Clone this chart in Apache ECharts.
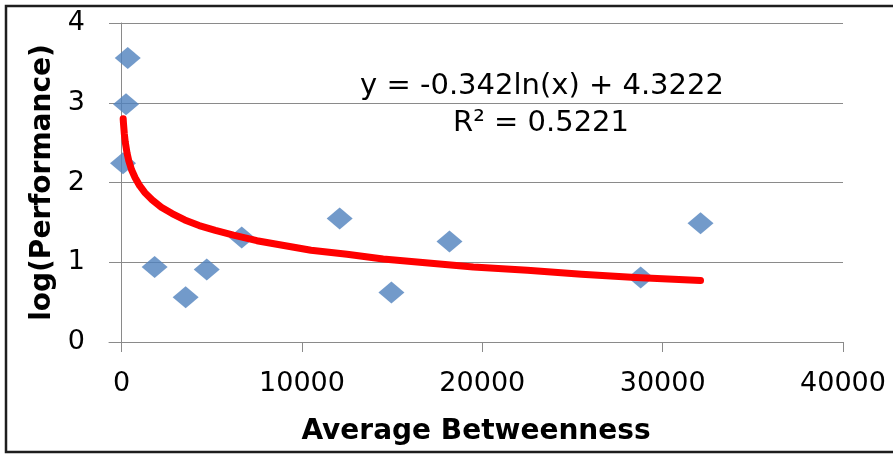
<!DOCTYPE html>
<html>
<head>
	<meta charset="UTF-8">
	<script src="https://cdn.jsdelivr.net/npm/echarts@6/dist/echarts.min.js"></script>
	<title></title>
	<style>
		html, body { margin: 0; padding: 0; background: #fff; }
	</style>
</head>
<body>
	<div id="main" style="height:454px;width:893px;"></div>
	<script type="text/javascript">
        // points
        var betweenness = [340, 244, 78, 1830, 3550, 4720, 6660, 12090, 14960, 18180, 28780, 32100];
        var logPerf = [3.56, 2.98, 2.24, 0.94, 0.56, 0.91, 1.31, 1.55, 0.62, 1.26, 0.81, 1.49];

        // red log trendline, sampled from the curve in the picture
        var trendX = [86, 100, 150, 200, 300, 400, 550, 750, 1000, 1300, 1700, 2200, 2800, 3500, 4300, 5200, 6200, 7500, 9000, 10500, 12500, 14500, 17000, 19500, 22500, 25500, 28500, 32100];
        var trendY = [2.80, 2.75, 2.61, 2.51, 2.37, 2.27, 2.16, 2.06, 1.96, 1.87, 1.78, 1.69, 1.61, 1.53, 1.46, 1.40, 1.34, 1.27, 1.21, 1.15, 1.10, 1.04, 0.99, 0.94, 0.90, 0.85, 0.81, 0.77];

        var xTicks = [0, 10000, 20000, 30000, 40000];
        var eqLine1 = 'y = -0.342ln(x) + 4.3222';
        var eqLine2 = 'R² = 0.5221';

        var pts = [];
        for (var i = 0; i < betweenness.length; i++) {
            pts.push([betweenness[i], logPerf[i]]);
        }
        var trend = [];
        for (var j = 0; j < trendX.length; j++) {
            trend.push([trendX[j], trendY[j]]);
        }

        var axisGrey = '#8a8a8a';
        var labelFont = 'DejaVu Sans';

        var myChart = echarts.init(document.getElementById('main'));
        var option = {
            animation: false,
            grid: { left: 109, right: 50, top: 23, bottom: 112 },
            xAxis: {
                type: 'value',
                min: -700,
                max: 40000,
                name: 'Average Betweenness',
                nameLocation: 'middle',
                nameGap: 76,
                nameTextStyle: { fontFamily: labelFont, fontWeight: 'bold', fontSize: 28, color: '#000' },
                axisLine: { onZero: false, lineStyle: { color: axisGrey, width: 1 } },
                axisTick: { show: true, length: 10, customValues: xTicks, lineStyle: { color: axisGrey } },
                axisLabel: {
                    customValues: xTicks, margin: 28, fontFamily: labelFont, fontSize: 27, color: '#000',
                    formatter: function (v) { return String(v); }
                },
                splitLine: { show: false }
            },
            yAxis: {
                type: 'value',
                min: 0,
                max: 4,
                interval: 1,
                name: 'log(Performance)',
                nameLocation: 'middle',
                nameGap: 52,
                nameTextStyle: { fontFamily: labelFont, fontWeight: 'bold', fontSize: 28, color: '#000' },
                axisLine: { show: true, onZero: true, lineStyle: { color: axisGrey, width: 1 } },
                axisTick: { show: false },
                axisLabel: { margin: 24, fontFamily: labelFont, fontSize: 27, color: '#000' },
                splitLine: { show: true, lineStyle: { color: axisGrey, width: 1 } }
            },
            series: [
                {
                    type: 'scatter',
                    symbol: 'diamond',
                    symbolSize: [26, 22],
                    itemStyle: { color: '#4f81bd' },
                    data: pts,
                    z: 2
                },
                {
                    type: 'line',
                    smooth: false,
                    showSymbol: false,
                    lineStyle: { color: '#ff0000', width: 7, cap: 'round', join: 'round' },
                    data: trend,
                    z: 3
                }
            ],
            graphic: [
                {
                    type: 'rect',
                    shape: { x: 6, y: 6, width: 1000, height: 446 },
                    style: { fill: null, stroke: '#1e1e1e', lineWidth: 2.5 },
                    silent: true
                },
                {
                    type: 'text',
                    x: 542,
                    y: 86,
                    style: { text: eqLine1, fontFamily: labelFont, fontSize: 29, fill: '#000', textAlign: 'center', textVerticalAlign: 'middle' }
                },
                {
                    type: 'text',
                    x: 541,
                    y: 123,
                    style: { text: eqLine2, fontFamily: labelFont, fontSize: 29, fill: '#000', textAlign: 'center', textVerticalAlign: 'middle' }
                }
            ]
        };
        myChart.setOption(option);
	</script>
</body>
</html>
